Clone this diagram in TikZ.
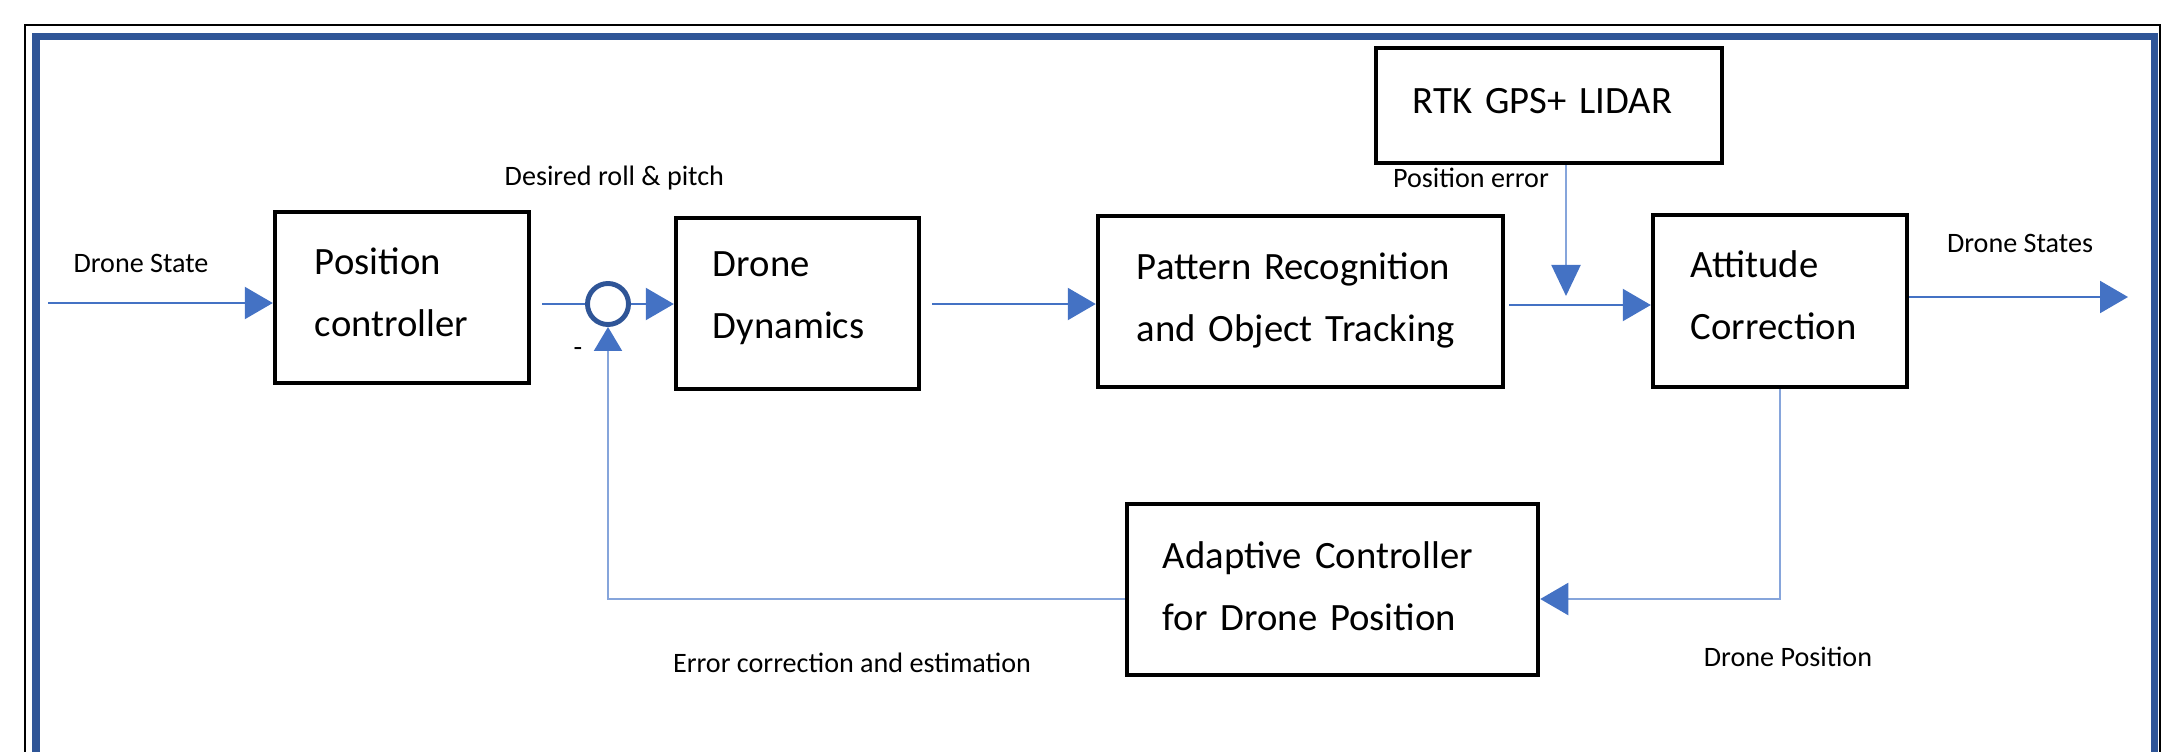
\documentclass[tikz,border=0pt]{standalone}
\usepackage{fontspec}
\setmainfont{Carlito}
\usetikzlibrary{arrows.meta,positioning}

\definecolor{frameblue}{HTML}{2F5597}
\definecolor{lineblue}{HTML}{4472C4}
\definecolor{paleblue}{HTML}{86A5DB}

\begin{document}
\begin{tikzpicture}[x=0.01cm,y=-0.01cm,
  block/.style={draw, line width=1.2pt, rectangle, align=left, inner xsep=0pt,
    font=\fontsize{11}{17.5}\selectfont},
  sumnode/.style={draw=frameblue, circle, line width=1.4pt, minimum size=0.41cm, inner sep=0pt},
  wire/.style={draw=lineblue, line width=0.6pt},
  tap/.style={draw=paleblue, line width=0.6pt},
  flow/.style={-{Triangle[length=0.28cm,width=0.32cm,color=lineblue]}},
  lbl/.style={font=\fontsize{8}{10}\selectfont, inner sep=0pt}]
  \useasboundingbox (0,0) rectangle (2161,751);

  % page frame
  \draw[line width=0.45pt] (25,25) rectangle (2160,820);
  \draw[frameblue, line width=2pt] (36,36.5) rectangle (2154.5,820);

  % blocks (text depth lifts the two lines a little inside each box)
  \node[block, minimum width=2.54cm, minimum height=1.71cm, text width=1.74cm, text depth=0.72cm] (pos) at (402,297.5) {Position\\controller};
  \node[sumnode] (sum) at (608,304) {};
  \node[block, minimum width=2.43cm, minimum height=1.71cm, text width=1.69cm, text depth=0.78cm] (dyn) at (797.5,303.5) {Drone\\Dynamics};
  \node[block, minimum width=4.05cm, minimum height=1.71cm, text width=3.27cm, text depth=0.70cm] (pat) at (1300.5,301.5) {Pattern Recognition\\and Object Tracking};
  \node[block, minimum width=3.46cm, minimum height=1.15cm, text width=2.72cm, text depth=0.1cm] (rtk) at (1549,105.5) {RTK GPS+ LIDAR};
  \node[block, minimum width=2.54cm, minimum height=1.72cm, text width=1.78cm, text depth=0.735cm] (att) at (1780,301) {Attitude\\Correction};
  \node[block, minimum width=4.11cm, minimum height=1.71cm, text width=3.39cm, text depth=0.685cm] (ada) at (1332.5,589.5) {Adaptive Controller\\for Drone Position};

  % free ends and bends
  \coordinate (in) at (48,303);
  \coordinate (out) at (2128,297);
  \coordinate (fuse) at (1566,305);
  \coordinate (fb) at (608,599);

  % forward path
  \draw[wire,flow] (in) -- (in -| pos.west);
  \draw[wire, shorten <=0.11cm] (pos.east |- sum) -- (sum.west);
  \draw[wire,flow] (sum.east) -- (sum -| dyn.west);
  \draw[wire,flow, shorten <=0.11cm] (dyn.east |- sum) -- (sum -| pat.west);
  \draw[wire,flow, shorten <=0.04cm] (pat.east |- fuse) -- (fuse -| att.west);
  \draw[tap,-{Triangle[length=0.31cm,width=0.29cm,color=lineblue]}, shorten >=0.09cm] (rtk.south -| fuse) -- (fuse);
  \draw[wire,flow] (att.east |- out) -- (out);

  % feedback path
  \draw[tap,flow] (att.south) |- (ada.east |- fb);
  \draw[tap,-{Triangle[length=0.24cm,width=0.28cm,color=lineblue]}] (ada.west |- fb) -| (sum.south);

  % signal labels
  \node[lbl] (lstate) at (141,263) {Drone State};
  \node[lbl, anchor=west] (lroll) at (504,178) {Desired roll \& pitch};
  \node[lbl] (lminus) at (578,352) {-};
  \node[lbl] (lerr) at (1471,178) {Position error};
  \node[lbl] (lout) at (2020,243) {Drone States};
  \node[lbl] (lpos) at (1788,657) {Drone Position};
  \node[lbl] (lest) at (852,663) {Error correction and estimation};
\end{tikzpicture}
\end{document}
